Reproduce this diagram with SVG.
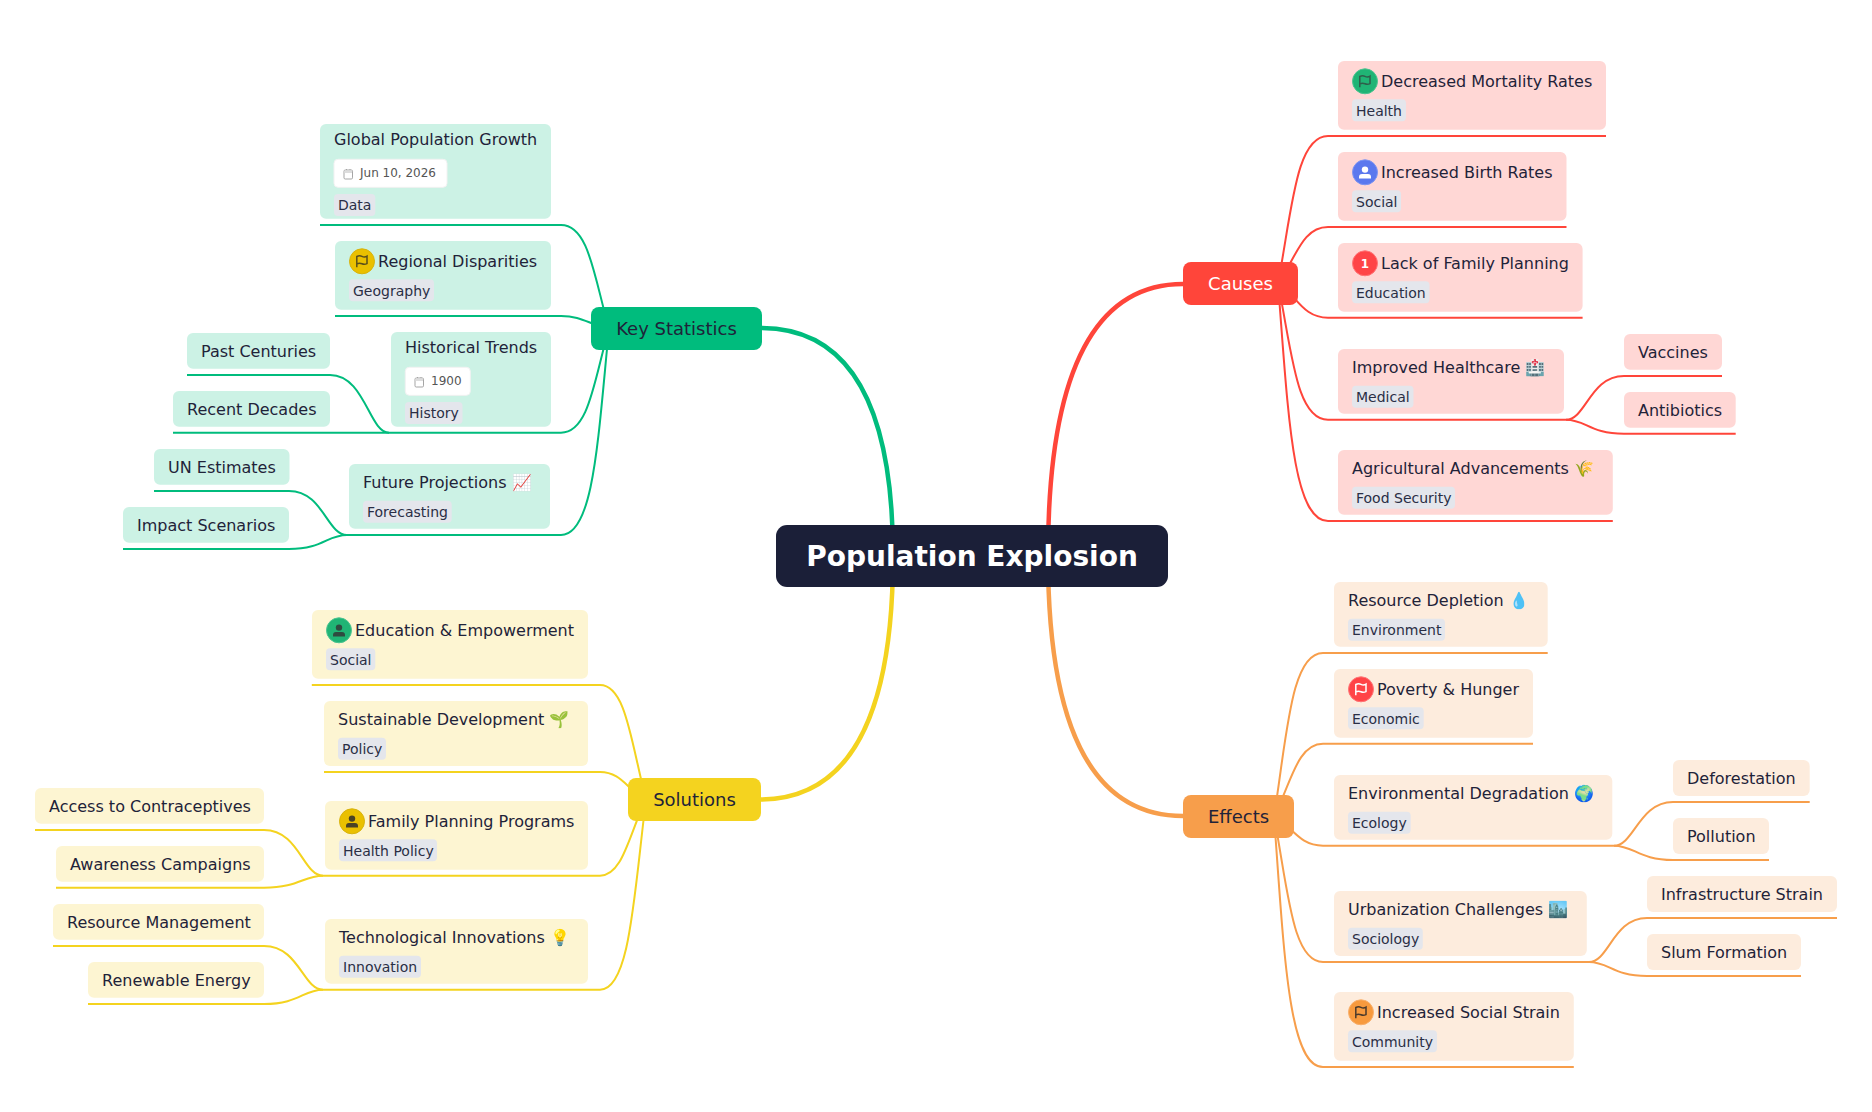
<svg xmlns="http://www.w3.org/2000/svg" width="1872" height="1112" viewBox="0 0 1872 1112">
<style>
text{font-family:"DejaVu Sans",sans-serif;fill:#1f2339}
.t{font-size:16px}.l{font-size:16px}.b{font-size:18px;text-anchor:middle}
.g{font-size:14px;fill:#2a2e45}.d{font-size:12px;fill:#555}
.tag{fill:#e4e6ec}.pill{fill:#fff;stroke:#f2f2f2}
.cal{fill:none;stroke:#a5a5a5;stroke-width:1}
.R{fill:#ffd7d5}.O{fill:#fdecdd}.G{fill:#ccf2e5}.Y{fill:#fdf5d2}
path.c{fill:none;stroke-width:2}path.m{fill:none;stroke-width:4.5}
.cr{stroke:#ff453a}.co{stroke:#f79e4b}.cg{stroke:#00bc7d}.cy{stroke:#f4d31f}
.fl{fill:none;stroke-width:1.5}
</style>
<defs>
<g id="flag"><path class="fl" d="M-5.200 6V-4.800Q-2.500-6.300 0-5T5-5.200V2.300Q2.500 3.600 0 2.500T-5.200 2.600"/></g>
<g id="person"><circle cx="0" cy="-2.700" r="3.200"/><path d="M-6 6.300v-1.500q0-3 3-3h6q3 0 3 3v1.500z"/></g>
<g id="cal"><rect class="cal" x="0.500" y="1" width="8.500" height="9" rx="1.200"/><path fill="#ddd" d="M1 1.500H8.500V4H1z"/><path class="cal" d="M3 0V1M6.500 0V1"/></g>
</defs>
<g id="connectors">
<path class="m cr" d="M1048 556Q1048 284 1183 284"/>
<path class="m co" d="M1048 556Q1048 816 1183 816"/>
<path class="m cg" d="M893 556Q893 328 761 328"/>
<path class="m cy" d="M893 556Q893 799.500 760 799.500"/>
<path class="c cr" d="M1278 283.500C1292 209.750 1296 136 1328 136H1606"/>
<path class="c cr" d="M1278 283.500C1296 258.100 1302 227 1328 227H1566.500"/>
<path class="c cr" d="M1278 283.500C1296 293.800 1302 317.700 1328 317.700H1582.600"/>
<path class="c cr" d="M1278 283.500C1292 351.600 1296 419.700 1328 419.700H1566"/>
<path class="c cr" d="M1278 283.500C1288 409.400 1292 521 1328 521H1612.800"/>
<path class="c cr" d="M1566 419.700C1586 419.700 1590 376 1624 376H1722"/>
<path class="c cr" d="M1566 419.700C1586 419.700 1590 433.700 1624 433.700H1735.700"/>
<path class="c co" d="M1274 816.500C1287 734.800 1291 653 1323 653H1547.700"/>
<path class="c co" d="M1274 816.500C1291 783.700 1297 743.700 1323 743.700H1533"/>
<path class="c co" d="M1274 816.500C1292 825.300 1298 845.700 1323 845.700H1614"/>
<path class="c co" d="M1274 816.500C1288 889.300 1292 962 1323 962H1589"/>
<path class="c co" d="M1274 816.500C1284 949.300 1288 1067 1323 1067H1573.800"/>
<path class="c co" d="M1614 845.700C1634 845.700 1639 802 1673 802H1809.700"/>
<path class="c co" d="M1614 845.700C1634 845.700 1639 860 1673 860H1769"/>
<path class="c co" d="M1589 962C1609 962 1613 918 1647 918H1837"/>
<path class="c co" d="M1589 962C1609 962 1613 976 1647 976H1801"/>
<path class="c cg" d="M609 328.500C594 276.800 589 225 561 225H320"/>
<path class="c cg" d="M609 328.500C589 324.800 583 316 561 316H335"/>
<path class="c cg" d="M609 328.500C594 380.600 589 432.700 561 432.700H389"/>
<path class="c cg" d="M609 328.500C598 438 594 535 561 535H347"/>
<path class="c cg" d="M389 432.700C369 432.700 365 375 330 375H187"/>
<path class="c cg" d="M389 432.700H173"/>
<path class="c cg" d="M347 535C327 535 323 491 289 491H154"/>
<path class="c cg" d="M347 535C327 535 323 549 289 549H123"/>
<path class="c cy" d="M646 799.500C631 742.200 626 685 600 685H311.800"/>
<path class="c cy" d="M646 799.500C628 791.200 622 772 600 772H324"/>
<path class="c cy" d="M646 799.500C629 833.800 623 875.700 600 875.700H323"/>
<path class="c cy" d="M646 799.500C634 895 630 989.700 600 989.700H323"/>
<path class="c cy" d="M323 875.700C303 875.700 299 830 264 830H35"/>
<path class="c cy" d="M323 875.700C303 875.700 299 887.700 264 887.700H56"/>
<path class="c cy" d="M323 989.700C303 989.700 299 946 264 946H53"/>
<path class="c cy" d="M323 989.700C303 989.700 299 1004 264 1004H88"/>
</g>
<g id="root"><rect x="776" y="525" width="392" height="62" rx="11" fill="#1b1f38"/><text x="972" y="566" font-size="28" font-weight="700" text-anchor="middle" style="fill:#fff">Population Explosion</text></g>
<g id="causes"><rect x="1183" y="262" width="115" height="43" rx="8" fill="#ff453a"/><text class="b" x="1240.500" y="290" style="fill:#fff">Causes</text></g>
<g id="effects"><rect x="1183" y="795" width="111" height="43" rx="8" fill="#f79e4b"/><text class="b" x="1238.500" y="823">Effects</text></g>
<g id="key-statistics"><rect x="591" y="307" width="171" height="43" rx="8" fill="#00bc7d"/><text class="b" x="676.500" y="335">Key Statistics</text></g>
<g id="solutions"><rect x="628" y="778" width="133" height="43" rx="8" fill="#f4d31f"/><text class="b" x="694.500" y="806">Solutions</text></g>

<g id="decreased"><rect class="R" x="1338" y="61" width="268" height="68.700" rx="6"/><circle cx="1365" cy="81.300" r="12.500" fill="#20b475" stroke="#4cc491"/><use href="#flag" x="1365" y="81.300" stroke="#2f5e4b"/><text class="t" x="1381" y="86.700">Decreased Mortality Rates</text><rect class="tag" x="1352" y="99.300" width="54" height="22" rx="4"/><text class="g" x="1356" y="116">Health</text></g>
<g id="increased-birth"><rect class="R" x="1338" y="152" width="228.500" height="68.700" rx="6"/><circle cx="1365" cy="172.300" r="12.500" fill="#5b78ee" stroke="#7d94f1"/><use href="#person" x="1365" y="172.300" fill="#fff"/><text class="t" x="1381" y="177.700">Increased Birth Rates</text><rect class="tag" x="1352" y="190.300" width="49" height="22" rx="4"/><text class="g" x="1356" y="207">Social</text></g>
<g id="lack-planning"><rect class="R" x="1338" y="243" width="244.600" height="68.700" rx="6"/><circle cx="1365" cy="263.300" r="12.500" fill="#ff4447" stroke="#ff7577"/><text x="1365" y="268" font-size="12" font-weight="700" text-anchor="middle" style="fill:#fff">1</text><text class="t" x="1381" y="268.700">Lack of Family Planning</text><rect class="tag" x="1352" y="281.300" width="77.500" height="22" rx="4"/><text class="g" x="1356" y="298">Education</text></g>
<g id="healthcare"><rect class="R" x="1338" y="349" width="226" height="64.700" rx="6"/><text class="t" x="1352" y="373.300">Improved Healthcare 🏥</text><rect class="tag" x="1352" y="385.700" width="61.500" height="22" rx="4"/><text class="g" x="1356" y="402.400">Medical</text></g>
<g id="agriculture"><rect class="R" x="1338" y="450" width="274.800" height="64.700" rx="6"/><text class="t" x="1352" y="474.300">Agricultural Advancements 🌾</text><rect class="tag" x="1352" y="486.700" width="103" height="22" rx="4"/><text class="g" x="1356" y="503.400">Food Security</text></g>
<g id="vaccines"><rect class="R" x="1624" y="334" width="98" height="35.700" rx="6"/><text class="l" x="1638" y="358">Vaccines</text></g>
<g id="antibiotics"><rect class="R" x="1624" y="392" width="111.700" height="35.700" rx="6"/><text class="l" x="1638" y="416">Antibiotics</text></g>

<g id="resource-depletion"><rect class="O" x="1334" y="582" width="213.700" height="64.700" rx="6"/><text class="t" x="1348" y="606.300">Resource Depletion 💧</text><rect class="tag" x="1348" y="618.700" width="97" height="22" rx="4"/><text class="g" x="1352" y="635.400">Environment</text></g>
<g id="poverty"><rect class="O" x="1334" y="669" width="199" height="68.700" rx="6"/><circle cx="1361" cy="689.300" r="12.500" fill="#ff4447" stroke="#ff7577"/><use href="#flag" x="1361" y="689.300" stroke="#fff"/><text class="t" x="1377" y="694.700">Poverty &amp; Hunger</text><rect class="tag" x="1348" y="707.300" width="75.700" height="22" rx="4"/><text class="g" x="1352" y="724">Economic</text></g>
<g id="env-degradation"><rect class="O" x="1334" y="775" width="278.300" height="64.700" rx="6"/><text class="t" x="1348" y="799.300">Environmental Degradation 🌍</text><rect class="tag" x="1348" y="811.700" width="62.700" height="22" rx="4"/><text class="g" x="1352" y="828.400">Ecology</text></g>
<g id="urbanization"><rect class="O" x="1334" y="891" width="252.800" height="65" rx="6"/><text class="t" x="1348" y="915.300">Urbanization Challenges 🏙️</text><rect class="tag" x="1348" y="927.700" width="74.800" height="22" rx="4"/><text class="g" x="1352" y="944.400">Sociology</text></g>
<g id="social-strain"><rect class="O" x="1334" y="992" width="239.800" height="68.700" rx="6"/><circle cx="1361" cy="1012.300" r="12.500" fill="#f79a3e" stroke="#f9b06c"/><use href="#flag" x="1361" y="1012.300" stroke="#4a3a2c"/><text class="t" x="1377" y="1017.700">Increased Social Strain</text><rect class="tag" x="1348" y="1030.300" width="89" height="22" rx="4"/><text class="g" x="1352" y="1047">Community</text></g>
<g id="deforestation"><rect class="O" x="1673" y="760" width="136.700" height="36" rx="6"/><text class="l" x="1687" y="784">Deforestation</text></g>
<g id="pollution"><rect class="O" x="1673" y="818" width="96" height="36" rx="6"/><text class="l" x="1687" y="842">Pollution</text></g>
<g id="infrastructure"><rect class="O" x="1647" y="876" width="190" height="36" rx="6"/><text class="l" x="1661" y="900">Infrastructure Strain</text></g>
<g id="slum"><rect class="O" x="1647" y="934" width="154" height="36" rx="6"/><text class="l" x="1661" y="958">Slum Formation</text></g>

<g id="global-growth"><rect class="G" x="320" y="124" width="231" height="94.700" rx="6"/><text class="t" x="334" y="145">Global Population Growth</text><rect class="pill" x="334" y="159.300" width="113" height="28" rx="4"/><use href="#cal" x="343.500" y="169"/><text class="d" x="360" y="177.300">Jun 10, 2026</text><rect class="tag" x="334" y="194" width="41.300" height="22" rx="4"/><text class="g" x="338" y="209.700">Data</text></g>
<g id="regional"><rect class="G" x="335" y="241" width="216" height="68.700" rx="6"/><circle cx="362" cy="261.300" r="12.500" fill="#eac000" stroke="#d8b30c"/><use href="#flag" x="362" y="261.300" stroke="#5a4f1a"/><text class="t" x="378" y="266.700">Regional Disparities</text><rect class="tag" x="349" y="279.300" width="85" height="22" rx="4"/><text class="g" x="353" y="296">Geography</text></g>
<g id="historical"><rect class="G" x="391" y="332" width="160" height="94.700" rx="6"/><text class="t" x="405" y="353">Historical Trends</text><rect class="pill" x="405.300" y="367.300" width="65" height="28" rx="4"/><use href="#cal" x="414.500" y="377"/><text class="d" x="431" y="385.300">1900</text><rect class="tag" x="405" y="402" width="57.500" height="22" rx="4"/><text class="g" x="409" y="417.700">History</text></g>
<g id="future"><rect class="G" x="349" y="464" width="201" height="64.700" rx="6"/><text class="t" x="363" y="488.300">Future Projections 📈</text><rect class="tag" x="363" y="500.700" width="88.700" height="22" rx="4"/><text class="g" x="367" y="517.400">Forecasting</text></g>
<g id="past"><rect class="G" x="187" y="333" width="143" height="35.700" rx="6"/><text class="l" x="201" y="357">Past Centuries</text></g>
<g id="recent"><rect class="G" x="173" y="391" width="157" height="35.700" rx="6"/><text class="l" x="187" y="415">Recent Decades</text></g>
<g id="un"><rect class="G" x="154" y="449" width="135.500" height="35.700" rx="6"/><text class="l" x="168" y="473">UN Estimates</text></g>
<g id="impact"><rect class="G" x="123" y="507" width="166" height="35.700" rx="6"/><text class="l" x="137" y="531">Impact Scenarios</text></g>

<g id="education"><rect class="Y" x="312" y="610" width="276" height="68.700" rx="6"/><circle cx="339" cy="630.300" r="12.500" fill="#20b475" stroke="#4cc491"/><use href="#person" x="339" y="630.300" fill="#2f4a40"/><text class="t" x="355" y="635.700">Education &amp; Empowerment</text><rect class="tag" x="326" y="648.300" width="49.300" height="22" rx="4"/><text class="g" x="330" y="665">Social</text></g>
<g id="sustainable"><rect class="Y" x="324" y="701" width="264" height="65" rx="6"/><text class="t" x="338" y="725.300">Sustainable Development 🌱</text><rect class="tag" x="338" y="737.700" width="48" height="22" rx="4"/><text class="g" x="342" y="754.400">Policy</text></g>
<g id="family"><rect class="Y" x="325" y="801" width="263" height="68.700" rx="6"/><circle cx="352" cy="821.300" r="12.500" fill="#eac000" stroke="#d8b30c"/><use href="#person" x="352" y="821.300" fill="#4a4325"/><text class="t" x="368" y="826.700">Family Planning Programs</text><rect class="tag" x="339" y="839.300" width="98" height="22" rx="4"/><text class="g" x="343" y="856">Health Policy</text></g>
<g id="tech"><rect class="Y" x="325" y="919" width="263" height="64.700" rx="6"/><text class="t" x="339" y="943.300">Technological Innovations 💡</text><rect class="tag" x="339" y="955.700" width="82" height="22" rx="4"/><text class="g" x="343" y="972.400">Innovation</text></g>
<g id="access"><rect class="Y" x="35" y="788" width="229" height="35.700" rx="6"/><text class="l" x="49" y="812">Access to Contraceptives</text></g>
<g id="awareness"><rect class="Y" x="56" y="846" width="208" height="35.700" rx="6"/><text class="l" x="70" y="870">Awareness Campaigns</text></g>
<g id="resource-mgmt"><rect class="Y" x="53" y="904" width="211" height="35.700" rx="6"/><text class="l" x="67" y="928">Resource Management</text></g>
<g id="renewable"><rect class="Y" x="88" y="962" width="176" height="35.700" rx="6"/><text class="l" x="102" y="986">Renewable Energy</text></g>
</svg>
